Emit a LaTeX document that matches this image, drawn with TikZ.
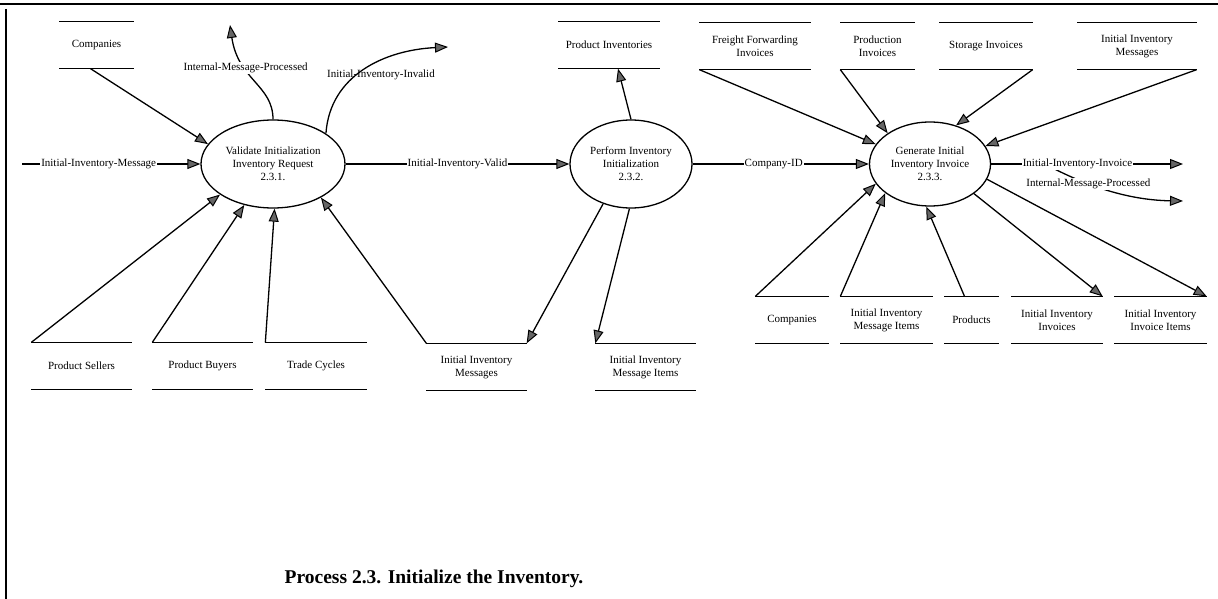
\documentclass[tikz,border=0pt]{standalone}
\usepackage{fontspec}
\setmainfont{Liberation Serif}
\usetikzlibrary{shapes.geometric,arrows.meta,calc}

\begin{document}
\begin{tikzpicture}
        [x = 1pt, y = -1pt,
            > = {Triangle[length=13pt, width=10pt, line width=1pt, fill=black!60]},
            line width = 1.3pt,
            process/.style = {ellipse, draw, inner sep=0pt, align=center,
                font=\fontsize{11}{13}\selectfont},
            store/.style = {minimum height=46pt, inner sep=0pt, align=center,
                font=\fontsize{11}{13}\selectfont},
            flow/.style = {fill=white, inner sep=1pt, font=\fontsize{11}{13}\selectfont}]

        \useasboundingbox (0,0) rectangle (1218,599);
        \draw[line width=2pt] (0,4) -- (1218,4) (6,9) -- (6,599);

        % processes
        \node[process, minimum width=144pt, minimum height=88pt] (validate) at (273,164)
            {Validate Initialization\\Inventory Request\\2.3.1.};
        \node[process, minimum width=122pt, minimum height=88pt] (perform) at (631,164)
            {Perform Inventory\\Initialization\\2.3.2.};
        \node[process, minimum width=121pt, minimum height=84pt] (generate) at (930,164)
            {Generate Initial\\Inventory Invoice\\2.3.3.};

        % data stores
        \node[store, minimum width=73pt] (companiesA) at (96.5,45) {Companies};
        \node[store, minimum width=100pt] (prodinv) at (609,45) {Product Inventories};
        \node[store, minimum width=110pt] (freight) at (755,46) {Freight Forwarding\\Invoices};
        \node[store, minimum width=73pt] (production) at (877.5,46) {Production\\Invoices};
        \node[store, minimum width=92pt] (storage) at (986,46) {Storage Invoices};
        \node[store, minimum width=118pt] (msgsB) at (1137,46) {Initial Inventory\\Messages};
        \node[store, minimum width=99pt] (sellers) at (81.5,366) {Product Sellers};
        \node[store, minimum width=99pt] (buyers) at (202.5,366) {Product Buyers};
        \node[store, minimum width=100pt] (cycles) at (316,366) {Trade Cycles};
        \node[store, minimum width=99pt] (msgsA) at (476.5,367) {Initial Inventory\\Messages};
        \node[store, minimum width=99pt] (itemsA) at (645.5,367) {Initial Inventory\\Message Items};
        \node[store, minimum width=72pt] (companiesB) at (792,320) {Companies};
        \node[store, minimum width=91pt] (itemsB) at (886.5,320) {Initial Inventory\\Message Items};
        \node[store, minimum width=53pt] (products) at (971.5,320) {Products};
        \node[store, minimum width=90pt] (invoices) at (1057,320) {Initial Inventory\\Invoices};
        \node[store, minimum width=91pt] (invitems) at (1160.5,320) {Initial Inventory\\Invoice Items};

        \foreach \s in {companiesA, prodinv, freight, production, storage, msgsB,
                sellers, buyers, cycles, msgsA, itemsA,
                companiesB, itemsB, products, invoices, invitems}
            \draw[line width=1.5pt] (\s.north west) -- (\s.north east)
                (\s.south west) -- (\s.south east);

        % free ends
        \coordinate (msgin) at (22,164);
        \coordinate (procA) at (230,25);
        \coordinate (invalid) at (448,47);
        \coordinate (invout) at (1183,164);
        \coordinate (procB) at (1183,201);

        \path[->]
        (msgin) edge node[flow, pos=.43] {Initial-Inventory-Message} (validate)
        ([xshift=-6pt]companiesA.south) edge (validate.163)
        (sellers.north west) edge (validate.210)
        (buyers.north west) edge (validate.235)
        (cycles.north west) edge (validate.272)
        (msgsA.north west) edge (validate.325)
        (validate) edge node[flow] {Initial-Inventory-Valid} (perform)
        (perform.north) edge ([xshift=9pt]prodinv.south)
        (perform.235) edge (msgsA.north east)
        (perform.268) edge (itemsA.north west)
        (perform) edge node[flow, pos=.46] {Company-ID} (generate)
        (freight.south west) edge (generate.160)
        (production.south west) edge (generate.144)
        (storage.south east) edge (generate.56)
        (msgsB.south east) edge (generate.18)
        (companiesB.north west) edge (generate.200)
        (itemsB.north west) edge (generate.213)
        ([xshift=-7pt]products.north) edge (generate.265)
        (generate.326) edge (invoices.north east)
        (generate.345) edge (invitems.north east);

        % outgoing flows
        \draw[->] (validate.north) .. controls (273,85) and (238,80) .. (procA)
            node[flow, pos=.65] {Internal-Message-Processed};
        \draw[->] (validate.30) .. controls (330,75) and (385,50) .. (invalid);
        \node[font=\fontsize{11}{13}\selectfont] (invalidlbl) at (381,75) {Initial-Inventory-Invalid};

        \coordinate (split) at ($(generate.east)!.28!(invout)$);
        \draw[->] (split) .. controls (1075,180) and (1120,200) .. (procB)
            node[flow, pos=.4] {Internal-Message-Processed};
        \draw[->] (generate) -- node[flow, pos=.45] {Initial-Inventory-Invoice} (invout);

        \node[font=\bfseries\fontsize{19.5}{22}\selectfont] (caption) at (434,579)
            {Process 2.3. Initialize the Inventory.};
\end{tikzpicture}
\end{document}
